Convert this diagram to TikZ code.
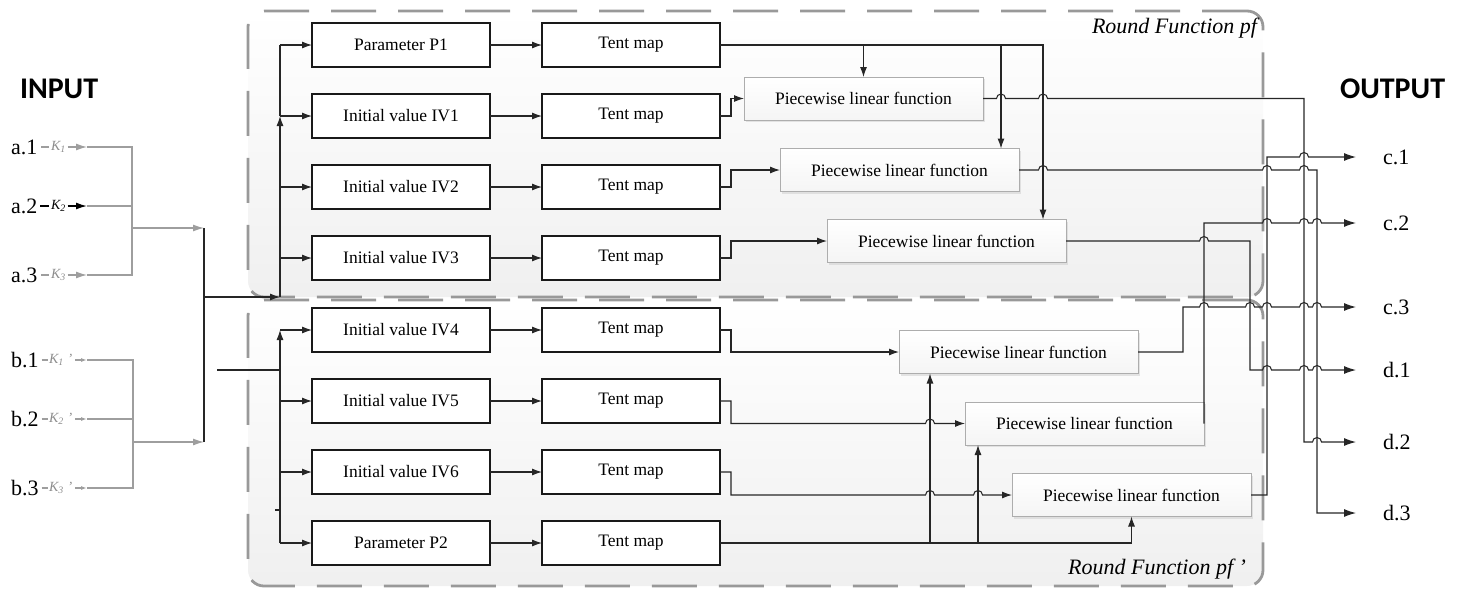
\documentclass[tikz,border=0pt]{standalone}
\usepackage{fontspec}
\setmainfont{Liberation Serif}
\newfontfamily\headfont{Carlito}
\usetikzlibrary{arrows.meta,shadows}

% horizontal line that hops over a vertical wire at x=#1 (row y=#2)
\newcommand\hopover[2]{-- (#1-4.5,#2) arc[start angle=180,end angle=0,radius=4.5pt]}

\begin{document}
\begin{tikzpicture}[x=1pt,y=-1pt,
  every node/.style={inner sep=0pt,outer sep=0pt},
  wire/.style={draw=black!85,line width=1.05pt},
  arr/.style={wire,-{Latex[length=10pt,width=7pt]}},
  outarr/.style={wire,-{Latex[length=12pt,width=8pt]}},
  gwire/.style={draw=black!38,line width=1.2pt},
  garr/.style={gwire,-{Latex[length=11pt,width=7pt]}},
  gsmall/.style={gwire,-{Latex[length=6pt,width=4pt]}},
  kwire/.style={draw=black,line width=1.4pt},
  karr/.style={kwire,-{Latex[length=11pt,width=7pt]}},
  region/.style={draw=black!40,line width=2.8pt,dash pattern=on 45pt off 22pt,
    rounded corners=16pt,top color=white,bottom color=black!6},
  blockbox/.style={draw=black!90,line width=1.05pt,fill=white,
    minimum width=178pt,minimum height=44pt,font=\fontsize{17.5}{20}\selectfont},
  plfbox/.style={draw=black!32,line width=1pt,top color=white,bottom color=black!4,
    minimum width=239pt,minimum height=43pt,font=\fontsize{17.5}{20}\selectfont,
    drop shadow={shadow xshift=2pt,shadow yshift=-2pt,fill=black!20}},
  iotxt/.style={font=\fontsize{22}{24}\selectfont},
  keytxt/.style={font=\fontsize{14}{16}\selectfont\itshape},
  headtxt/.style={font=\headfont\bfseries\fontsize{30}{32}\selectfont},
  regtitle/.style={font=\fontsize{22}{24}\selectfont\itshape}
]
\useasboundingbox (0,0) rectangle (1461,590);

% the two round-function regions
\node[region,minimum width=1015pt,minimum height=286pt] (pf)  at (755.5,154) {};
\node[region,minimum width=1015pt,minimum height=286pt] (pfp) at (755.5,443) {};
\node[regtitle,anchor=base east] (pftitle)  at (1257,33)  {Round Function pf};
\node[regtitle,anchor=base east] (pfptitle) at (1246,574) {Round Function pf ’};

% headings
\node[headtxt,anchor=base west] (inhead)  at (20,98)   {INPUT};
\node[headtxt,anchor=base west] (outhead) at (1340,98) {OUTPUT};

% parameter / initial value blocks
\node[blockbox] (P1) at (401,45)  {Parameter P1};
\node[blockbox] (I1) at (401,116) {Initial value IV1};
\node[blockbox] (I2) at (401,187) {Initial value IV2};
\node[blockbox] (I3) at (401,258) {Initial value IV3};
\node[blockbox] (I4) at (401,330) {Initial value IV4};
\node[blockbox] (I5) at (401,401) {Initial value IV5};
\node[blockbox] (I6) at (401,472) {Initial value IV6};
\node[blockbox] (P2) at (401,543) {Parameter P2};

% tent maps
\foreach \n/\y in {1/45,2/116,3/187,4/258,5/330,6/401,7/472,8/543}
  \node[blockbox] (T\n) at (631,\y) {Tent map};

% piecewise linear functions
\node[plfbox] (F1) at (863.5,98.5)  {Piecewise linear function};
\node[plfbox] (F2) at (899.5,170)   {Piecewise linear function};
\node[plfbox] (F3) at (946.5,241)   {Piecewise linear function};
\node[plfbox] (F4) at (1018.5,352)  {Piecewise linear function};
\node[plfbox] (F5) at (1084.5,423.5){Piecewise linear function};
\node[plfbox] (F6) at (1131.5,495)  {Piecewise linear function};

% block -> tent map
\foreach \a/\b in {P1/T1,I1/T2,I2/T3,I3/T4,I4/T5,I5/T6,I6/T7,P2/T8}
  \draw[arr] (\a.east) -- (\b.west);

% tent maps -> piecewise functions (upper round)
\draw[arr] (T2.east) -- ++(11,0) |- (F1.west);
\draw[arr] (T3.east) -- ++(11,0) |- (F2.west);
\draw[arr] (T4.east) -- ++(11,0) |- (F3.west);
\coordinate (k2) at (1001,45);
\coordinate (k3) at (1043,45);
\draw[arr] (T1.east) -- (k3) -- (k3 |- F3.north);
\draw[arr] (T1.east -| F1.north) -- (F1.north);
\draw[arr] (k2) -- (k2 |- F2.north);

% tent maps -> piecewise functions (lower round)
\draw[arr] (T5.east) -- ++(11,0) |- (F4.west);
\draw[arr] (T6.east) -- (731,401) -- (731,423.5) \hopover{930}{423.5} -- (F5.west);
\draw[arr] (T7.east) -- (731,472) -- (731,495) \hopover{930}{495} \hopover{978}{495} -- (F6.west);
\coordinate (m1) at (930,543);
\coordinate (m2) at (978,543);
\draw[arr] (T8.east) -- (T8.east -| F6.south) -- (F6.south);
\draw[arr] (m1) -- (m1 |- F4.south);
\draw[arr] (m2) -- (m2 |- F5.south);

% outputs
\node[iotxt,anchor=west] (c1) at (1383,157) {c.1};
\node[iotxt,anchor=west] (c2) at (1383,223) {c.2};
\node[iotxt,anchor=west] (c3) at (1383,307) {c.3};
\node[iotxt,anchor=west] (d1) at (1383,370) {d.1};
\node[iotxt,anchor=west] (d2) at (1383,442) {d.2};
\node[iotxt,anchor=west] (d3) at (1383,513) {d.3};
\coordinate (oc1) at (1356,157);
\coordinate (oc2) at (1356,223);
\coordinate (oc3) at (1356,307);
\coordinate (od1) at (1356,370);
\coordinate (od2) at (1356,442);
\coordinate (od3) at (1356,513);

\draw[outarr] (F1.east) \hopover{1001}{98.5} \hopover{1043}{98.5} -- (1304,98.5)
  -- (1304,442) \hopover{1317}{442} -- (od2);
\draw[outarr] (F2.east) \hopover{1043}{170} \hopover{1267}{170} \hopover{1304}{170}
  -- (1317,170) -- (1317,513) -- (od3);
\draw[outarr] (F3.east) \hopover{1204}{241} -- (1250,241) -- (1250,370)
  \hopover{1267}{370} \hopover{1304}{370} \hopover{1317}{370} -- (od1);
\draw[outarr] (F4.east) -- (1183,352) -- (1183,307) \hopover{1204}{307} \hopover{1250}{307}
  \hopover{1267}{307} \hopover{1304}{307} \hopover{1317}{307} -- (oc3);
\draw[outarr] (F5.east) -- (1204,223) \hopover{1267}{223} \hopover{1304}{223}
  \hopover{1317}{223} -- (oc2);
\draw[outarr] (F6.east) -- (1267,495) -- (1267,157) \hopover{1304}{157} -- (oc1);

% distribution buses
\coordinate (fa) at (204,228);
\coordinate (fb) at (204,442);
\coordinate (feed) at (204,297);
\coordinate (bus) at (280,297);
\coordinate (busb) at (280,543);
\draw[wire] (fa) -- (fb);
\draw[arr] (feed) -- (bus);
\draw[arr] (bus) -- (bus |- I1.west);
\draw[wire] (bus |- I1.west) -- (bus |- P1.west);
\foreach \n in {P1,I1,I2,I3} \draw[arr] (bus |- \n.west) -- (\n.west);
\draw[arr] (busb) -- (busb |- I4.west);
\foreach \n in {I4,I5,I6,P2} \draw[arr] (busb |- \n.west) -- (\n.west);
\coordinate (stub) at (217,370);
\draw[wire] (stub) -- (stub -| busb);
\coordinate (tick) at (275,510);
\draw[wire] (tick) -- (tick -| busb);

% input keys a
\node[iotxt,anchor=west] (a1) at (11,147) {a.1};
\node[iotxt,anchor=west] (a2) at (11,206) {a.2};
\node[iotxt,anchor=west] (a3) at (11,275) {a.3};
\node[keytxt,text=black!45,anchor=west] (ka1) at (51,147) {K\textsubscript{1}};
\node[keytxt,text=black,anchor=west]    (ka2) at (51,206) {K\textsubscript{2}};
\node[keytxt,text=black!45,anchor=west] (ka3) at (51,275) {K\textsubscript{3}};
\coordinate (ia1) at (87,147);
\coordinate (ia2) at (87,206);
\coordinate (ia3) at (87,275);
\draw[gwire,shorten <=4pt,shorten >=2pt] (a1.east) -- (ka1.west);
\draw[kwire,shorten <=3pt,shorten >=2pt] (a2.east) -- (ka2.west);
\draw[gwire,shorten <=4pt,shorten >=2pt] (a3.east) -- (ka3.west);
\draw[garr,shorten <=2pt] (ka1.east) -- (ia1);
\draw[karr,shorten <=2pt] (ka2.east) -- (ia2);
\draw[garr,shorten <=2pt] (ka3.east) -- (ia3);
\coordinate (ja) at (132,228);
\draw[gwire] (ia1) -| (ja);
\draw[gwire] (ia3) -| (ja);
\draw[gwire] (ia2) -- (ia2 -| ja);
\draw[garr] (ja) -- (fa);

% input keys b
\node[iotxt,anchor=west] (b1) at (11,360) {b.1};
\node[iotxt,anchor=west] (b2) at (11,419) {b.2};
\node[iotxt,anchor=west] (b3) at (11,488) {b.3};
\node[keytxt,text=black!45,anchor=west] (kb1) at (49,360) {K\textsubscript{1}\hspace{4pt}’};
\node[keytxt,text=black!45,anchor=west] (kb2) at (49,419) {K\textsubscript{2}\hspace{4pt}’};
\node[keytxt,text=black!45,anchor=west] (kb3) at (49,488) {K\textsubscript{3}\hspace{4pt}’};
\coordinate (ib1) at (87,360);
\coordinate (ib2) at (87,419);
\coordinate (ib3) at (87,488);
\draw[gwire,shorten <=3pt,shorten >=1pt] (b1.east) -- (kb1.west);
\draw[gwire,shorten <=3pt,shorten >=1pt] (b2.east) -- (kb2.west);
\draw[gwire,shorten <=3pt,shorten >=1pt] (b3.east) -- (kb3.west);
\draw[gsmall,shorten <=3pt] (kb1.east) -- (ib1);
\draw[gsmall,shorten <=3pt] (kb2.east) -- (ib2);
\draw[gsmall,shorten <=3pt] (kb3.east) -- (ib3);
\coordinate (jb) at (133,442);
\draw[gwire] (ib1) -| (jb);
\draw[gwire] (ib3) -| (jb);
\draw[gwire] (ib2) -- (ib2 -| jb);
\draw[garr] (jb) -- (fb);
\end{tikzpicture}
\end{document}
